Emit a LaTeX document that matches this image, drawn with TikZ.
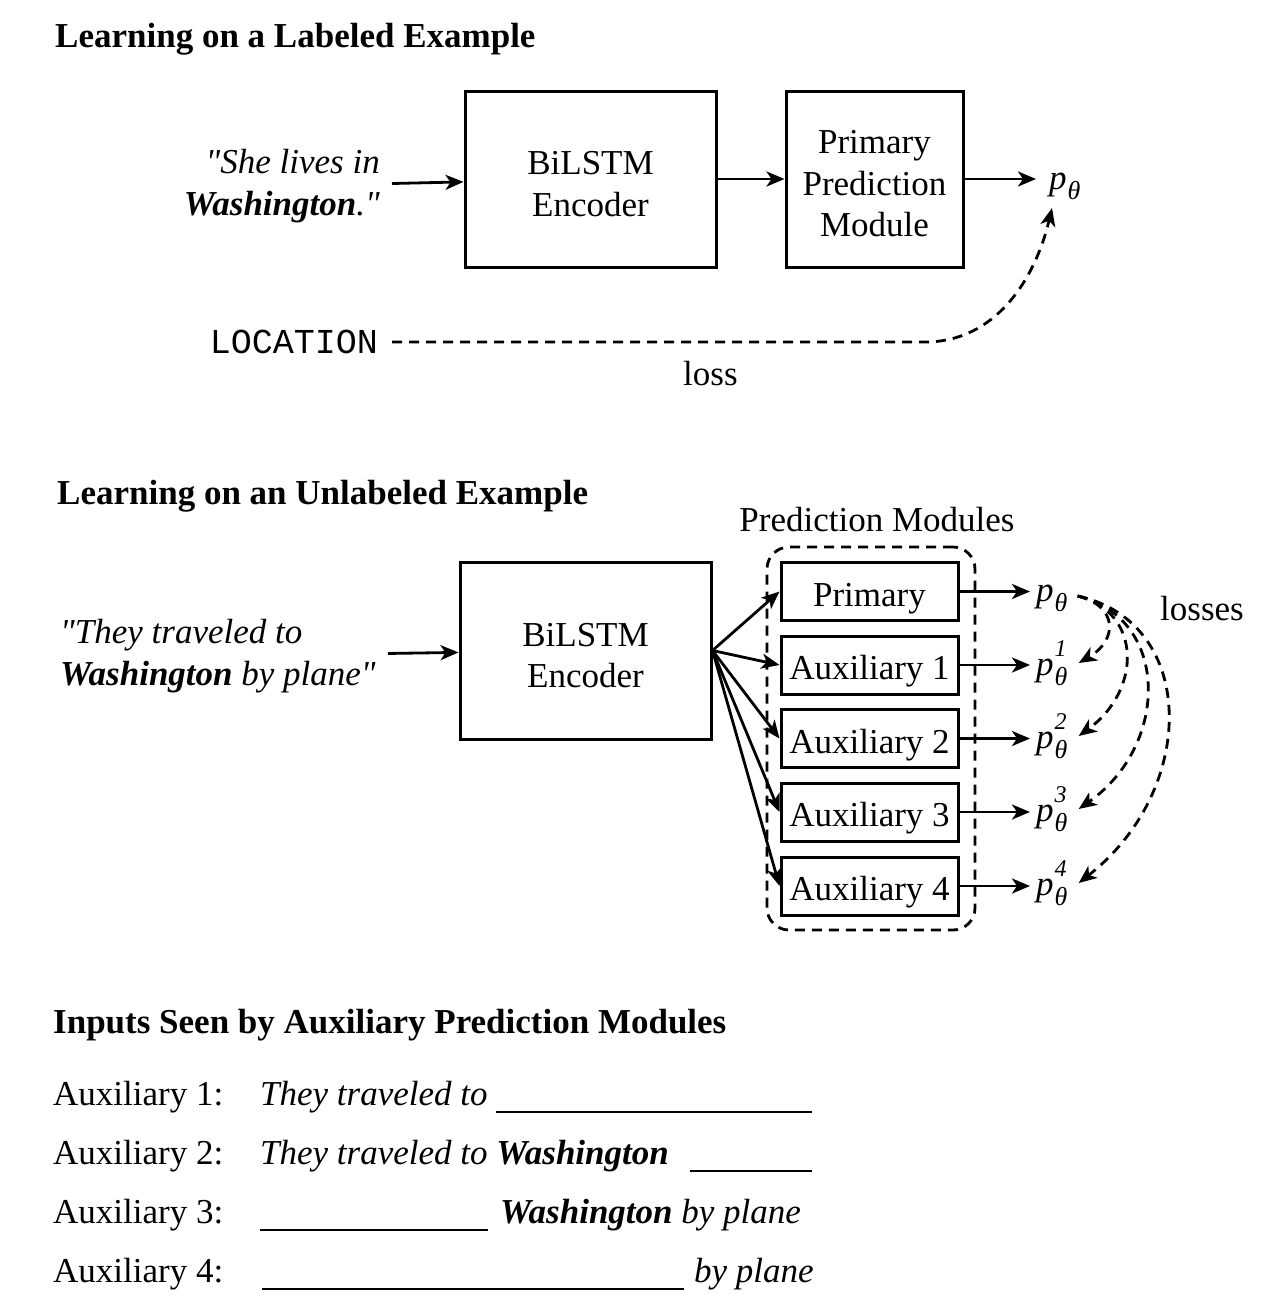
\documentclass[tikz,border=0pt]{standalone}
\usepackage{fontspec}
\setmainfont{Liberation Serif}[Ligatures=TeXOff]
\setmonofont{Liberation Mono}
\usetikzlibrary{arrows.meta}
\newcommand\ptheta[1]{\textit{p}\kern1pt\rlap{\raisebox{0.52em}{\fontsize{24}{24}\selectfont\itshape #1}}\raisebox{-0.3em}{\fontsize{26}{26}\selectfont\itshape θ}}
\newcommand\qq{\char34\relax}
\newcommand\up{\rule{0pt}{33pt}}
\begin{document}
\begin{tikzpicture}[x=1pt,y=-1pt,
  every node/.style={font=\fontsize{35}{41.5}\selectfont},
  box/.style={draw, line width=3pt, inner sep=0pt, align=center},
  tip/.tip={Stealth[length=18pt,width=15pt,inset=5pt]},
  arr/.style={line width=2.8pt, -tip},
  dsh/.style={line width=2.8pt, dash pattern=on 10pt off 7pt},
  titl/.style={anchor=base west, inner sep=0pt, font=\fontsize{35}{41}\selectfont\bfseries},
  txt/.style={anchor=base west, inner sep=0pt},
  pn/.style={anchor=base west, inner sep=0pt},
  uline/.style={line width=2.6pt}]
\useasboundingbox (0,0) rectangle (1274,1312);

% ---------- Section 1 ----------
\node[titl] (t1) at (55,47) {Learning on a Labeled Example};
\node[box, minimum width=251pt, minimum height=176pt] (enc1) at (590.5,179) {\up BiLSTM\\Encoder};
\node[box, minimum width=177pt, minimum height=176pt] (pm) at (874.5,179) {\up Primary\\Prediction\\Module};
\node[anchor=east, align=right, inner xsep=12pt, inner ysep=0pt, font=\fontsize{35}{41.5}\selectfont\itshape] (in1) at (392,186) {\qq She lives in\\\textbf{Washington}.\qq};
\node[pn] (q) at (1049,189) {\ptheta{}};
\node[anchor=east, inner xsep=14pt, inner ysep=0pt, font=\fontsize{35}{41}\selectfont\ttfamily] (loc) at (392,342) {LOCATION};
\coordinate (ltip) at (1052,208);
\node[txt] (losslab) at (683,385) {loss};

\draw[arr] (in1) -- (enc1);
\draw[arr] (enc1) -- (pm);
\draw[arr, shorten >=13pt] (pm.east) -- (pm.east -| q.west);
\draw[dsh, -tip] (loc.east) -- (925,342) .. controls (995,342) and (1035,280) .. (ltip);

% ---------- Section 2 ----------
\node[titl] (t2) at (57,504) {Learning on an Unlabeled Example};
\node[anchor=base] (pmlab) at (877,531) {Prediction Modules};
\node[draw, dsh, rounded corners=22pt, minimum width=208pt, minimum height=383pt, inner sep=0pt] (grp) at (871,738.5) {};
\node[box, minimum width=251pt, minimum height=177pt] (enc2) at (585.5,650.5) {\up BiLSTM\\Encoder};
\node[anchor=west, align=left, inner xsep=12pt, inner ysep=0pt, font=\fontsize{35}{41.5}\selectfont\itshape] (in2) at (48,656) {\qq They traveled to\\\textbf{Washington} by plane\qq};

\node[box, minimum width=177pt, minimum height=58pt] (m0) at (869.5,591.5) {\rule{0pt}{37pt}Primary};
\node[box, minimum width=177pt, minimum height=58pt] (m1) at (869.5,665) {\rule{0pt}{37pt}Auxiliary 1};
\node[box, minimum width=177pt, minimum height=58pt] (m2) at (869.5,738.5) {\rule{0pt}{37pt}Auxiliary 2};
\node[box, minimum width=177pt, minimum height=58pt] (m3) at (869.5,812) {\rule{0pt}{37pt}Auxiliary 3};
\node[box, minimum width=177pt, minimum height=58pt] (m4) at (869.5,886) {\rule{0pt}{37pt}Auxiliary 4};

\node[pn] (q0) at (1036,601) {\ptheta{}};
\node[pn] (q1) at (1036,675) {\ptheta{1}};
\node[pn] (q2) at (1036,748) {\ptheta{2}};
\node[pn] (q3) at (1036,821) {\ptheta{3}};
\node[pn] (q4) at (1036,895) {\ptheta{4}};
\node[txt] (losses) at (1160,620) {losses};

\draw[arr] (in2) -- (enc2);
\foreach \i in {0,...,4} {
  \draw[arr] (enc2.east) -- (m\i.west);
  \draw[arr, shorten >=6pt] (m\i.east) -- (m\i.east -| q\i.west);
}
\begin{scope}[dsh, -tip]
\draw ([xshift=10pt,yshift=5pt]q0.base east) .. controls (1118,606) and (1118,640) .. ([xshift=11pt,yshift=12pt]q1.base east);
\draw ([xshift=10pt,yshift=5pt]q0.base east) .. controls (1142,612) and (1142,690) .. ([xshift=11pt,yshift=12pt]q2.base east);
\draw ([xshift=10pt,yshift=5pt]q0.base east) .. controls (1170,618) and (1170,745) .. ([xshift=11pt,yshift=12pt]q3.base east);
\draw ([xshift=10pt,yshift=5pt]q0.base east) .. controls (1198,622) and (1198,790) .. ([xshift=11pt,yshift=12pt]q4.base east);
\end{scope}

% ---------- Section 3 ----------
\node[titl] (t3) at (53,1033) {Inputs Seen by Auxiliary Prediction Modules};
\node[txt] (a1) at (53,1105) {Auxiliary 1:};
\node[txt] (a2) at (53,1164) {Auxiliary 2:};
\node[txt] (a3) at (53,1223) {Auxiliary 3:};
\node[txt] (a4) at (53,1282) {Auxiliary 4:};
\node[txt, font=\fontsize{35}{41}\selectfont\itshape] (s1) at (260,1105) {They traveled to};
\node[txt, font=\fontsize{35}{41}\selectfont\itshape] (s2) at (260,1164) {They traveled to \textbf{Washington}};
\node[txt, font=\fontsize{35}{41}\selectfont\itshape] (s3) at (500,1223) {\textbf{Washington} by plane};
\node[txt, font=\fontsize{35}{41}\selectfont\itshape] (s4) at (694,1282) {by plane};
\draw[uline] (496,1112) -- (812,1112);
\draw[uline] (690,1171) -- (812,1171);
\draw[uline] (260,1230) -- (488,1230);
\draw[uline] (262,1289) -- (684,1289);
\end{tikzpicture}
\end{document}
